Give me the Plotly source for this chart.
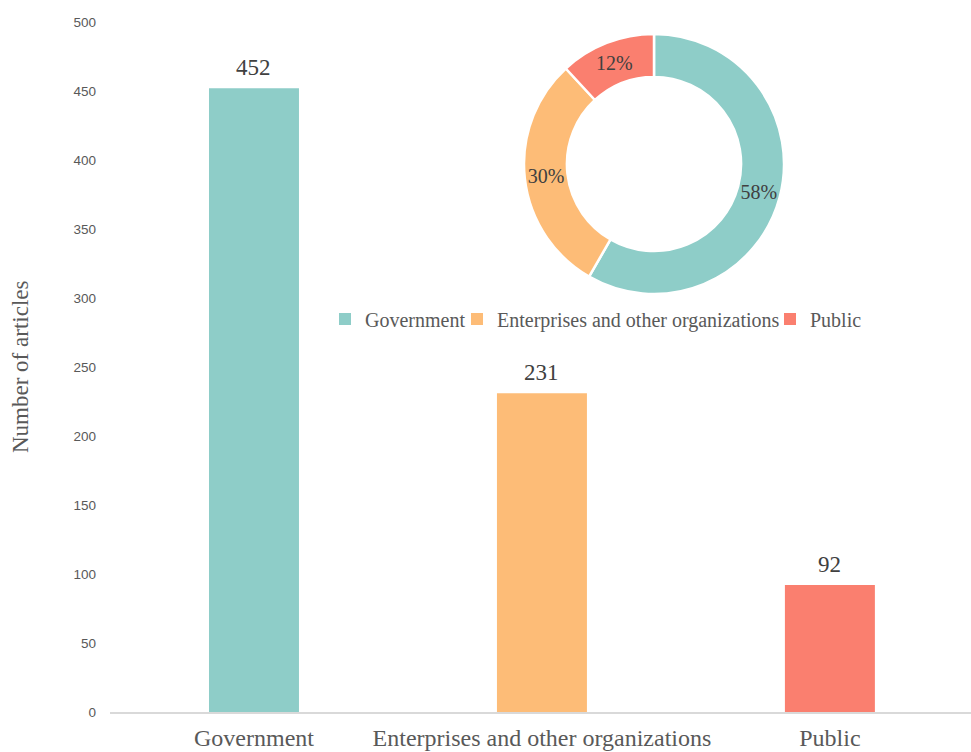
import plotly.graph_objects as go

# Article counts by source
categories = ["Government", "Enterprises and other organizations", "Public"]
counts = [452, 231, 92]
colors = ["#8ECDC8", "#FDBC77", "#FA7F6F"]
y_ticks = [0, 50, 100, 150, 200, 250, 300, 350, 400, 450, 500]

SERIF = "Liberation Serif, Times New Roman, serif"
SANS = "Liberation Sans, Arial, sans-serif"

PLOT_L, PLOT_W = 110, 861
PLOT_B, PLOT_H = 712, 690


def px_x(x):
    return (x - PLOT_L) / PLOT_W


def px_y(y):
    return (PLOT_B - y) / PLOT_H


fig = go.Figure()

# One bar trace per source so each gets its own legend entry
legend_ids = ["legend", "legend2", "legend3"]
for cat, val, col, lg in zip(categories, counts, colors, legend_ids):
    fig.add_trace(go.Bar(
        x=[cat], y=[val], name=cat,
        marker=dict(color=col, line=dict(width=0)),
        width=0.3125,
        legend=lg,
        hoverinfo="x+y",
    ))

# Share of total, shown as a donut inset
fig.add_trace(go.Pie(
    labels=categories,
    values=counts,
    hole=0.67,
    sort=False,
    direction="clockwise",
    rotation=0,
    marker=dict(colors=colors, line=dict(color="white", width=2.5)),
    textinfo="percent",
    texttemplate="%{percent:.0%}",
    textposition="inside",
    insidetextorientation="horizontal",
    textfont=dict(family=SERIF, size=20, color="#404040"),
    domain=dict(x=[px_x(524), px_x(784)], y=[px_y(294), px_y(34)]),
    showlegend=False,
))

# Value labels above the bars
for cat, val in zip(categories, counts):
    fig.add_annotation(
        x=cat, y=val, xref="x", yref="y",
        text=str(val), showarrow=False,
        yanchor="bottom", yshift=6,
        font=dict(family=SERIF, size=23, color="#404040"),
    )

# Vertical axis title
fig.add_annotation(
    x=px_x(20), y=px_y(367), xref="paper", yref="paper",
    text="Number of articles", textangle=-90, showarrow=False,
    xanchor="center", yanchor="middle",
    font=dict(family=SERIF, size=23, color="#595959"),
)

legend_style = dict(
    orientation="h",
    xanchor="left", yanchor="middle",
    y=px_y(319),
    font=dict(family=SERIF, size=20, color="#595959"),
    bgcolor="rgba(0,0,0,0)",
    borderwidth=0,
)

fig.update_layout(
    width=971, height=752,
    margin=dict(l=PLOT_L, r=0, t=22, b=40),
    paper_bgcolor="white", plot_bgcolor="white",
    barmode="overlay",
    legend=dict(legend_style, x=px_x(325)),
    legend2=dict(legend_style, x=px_x(457)),
    legend3=dict(legend_style, x=px_x(770)),
    xaxis=dict(
        range=[-0.5, 2.49],
        automargin=False,
        showgrid=False, zeroline=False,
        showline=True, linecolor="#D9D9D9", linewidth=1.5,
        ticks="", ticklabelstandoff=3,
        tickfont=dict(family=SERIF, size=24, color="#595959"),
    ),
    yaxis=dict(
        range=[0, 500], tickvals=y_ticks,
        automargin=False,
        showgrid=False, zeroline=False, showline=False,
        ticks="", ticklabelstandoff=13,
        tickfont=dict(family=SANS, size=13.5, color="#595959"),
    ),
)

fig.write_html("out.html")
